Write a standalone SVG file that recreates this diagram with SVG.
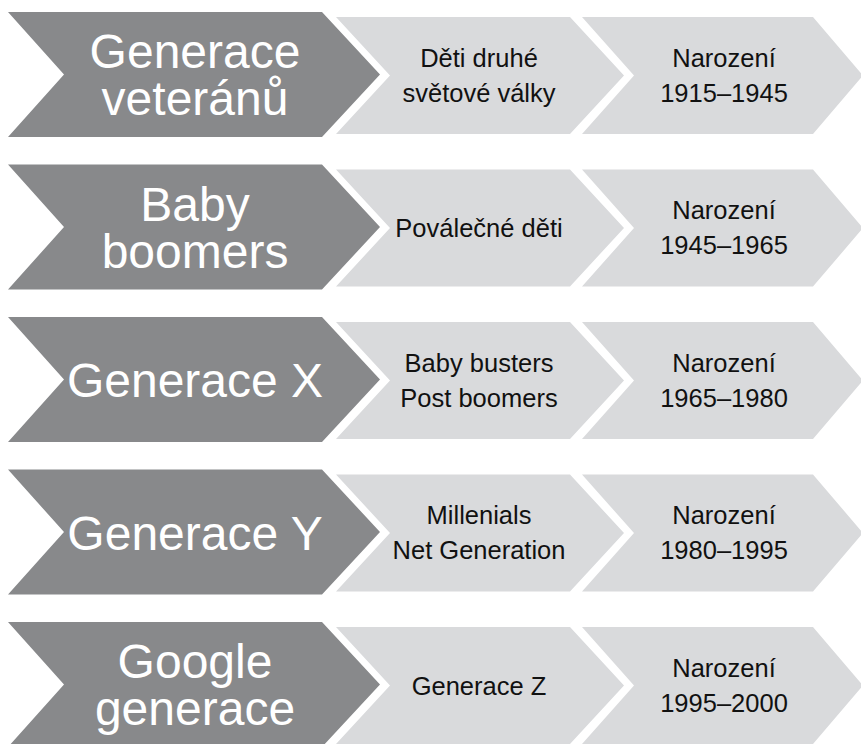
<svg xmlns="http://www.w3.org/2000/svg" xmlns:xlink="http://www.w3.org/1999/xlink" width="861" height="744" viewBox="0 0 861 744">
<defs>
<style>
.dark{fill:#88898b;}
.light{fill:#d9dadc;}
.tl{font-family:"Liberation Sans",Arial,Helvetica,sans-serif;font-size:48px;fill:#ffffff;text-anchor:middle;}
.ts{font-family:"Liberation Sans",Arial,Helvetica,sans-serif;font-size:25.5px;fill:#111111;text-anchor:middle;}
</style>
<polygon id="pd" points="8,0 322,0 380,62.5 322,125 8,125 64,62.5"/>
<polygon id="pl1" points="336,5 570,5 624,63.5 570,122 336,122 390,63.5"/>
<polygon id="pl2" points="582,5 813,5 863,63.5 813,122 582,122 634,63.5"/>
</defs>
<rect width="861" height="744" fill="#ffffff"/>

<g id="row1" transform="translate(0,12)">
<g id="n1a"><use xlink:href="#pd" class="dark"/><text class="tl" x="195" y="56">Generace</text><text class="tl" x="195" y="103">veteránů</text></g>
<g id="n1b"><use xlink:href="#pl1" class="light"/><text class="ts" x="479" y="54.5">Děti druhé</text><text class="ts" x="479" y="89.5">světové války</text></g>
<g id="n1c"><use xlink:href="#pl2" class="light"/><text class="ts" x="724" y="54.5">Narození</text><text class="ts" x="724" y="89.5">1915–1945</text></g>
</g>

<g id="row2" transform="translate(0,164.5)">
<g id="n2a"><use xlink:href="#pd" class="dark"/><text class="tl" x="195" y="56">Baby</text><text class="tl" x="195" y="103">boomers</text></g>
<g id="n2b"><use xlink:href="#pl1" class="light"/><text class="ts" x="479" y="72.5">Poválečné děti</text></g>
<g id="n2c"><use xlink:href="#pl2" class="light"/><text class="ts" x="724" y="54.5">Narození</text><text class="ts" x="724" y="89.5">1945–1965</text></g>
</g>

<g id="row3" transform="translate(0,317)">
<g id="n3a"><use xlink:href="#pd" class="dark"/><text class="tl" x="195" y="80">Generace X</text></g>
<g id="n3b"><use xlink:href="#pl1" class="light"/><text class="ts" x="479" y="54.5">Baby busters</text><text class="ts" x="479" y="89.5">Post boomers</text></g>
<g id="n3c"><use xlink:href="#pl2" class="light"/><text class="ts" x="724" y="54.5">Narození</text><text class="ts" x="724" y="89.5">1965–1980</text></g>
</g>

<g id="row4" transform="translate(0,469.5)">
<g id="n4a"><use xlink:href="#pd" class="dark"/><text class="tl" x="195" y="80">Generace Y</text></g>
<g id="n4b"><use xlink:href="#pl1" class="light"/><text class="ts" x="479" y="54.5">Millenials</text><text class="ts" x="479" y="89.5">Net Generation</text></g>
<g id="n4c"><use xlink:href="#pl2" class="light"/><text class="ts" x="724" y="54.5">Narození</text><text class="ts" x="724" y="89.5">1980–1995</text></g>
</g>

<g id="row5" transform="translate(0,622)">
<g id="n5a"><use xlink:href="#pd" class="dark"/><text class="tl" x="195" y="56">Google</text><text class="tl" x="195" y="103">generace</text></g>
<g id="n5b"><use xlink:href="#pl1" class="light"/><text class="ts" x="479" y="72.5">Generace Z</text></g>
<g id="n5c"><use xlink:href="#pl2" class="light"/><text class="ts" x="724" y="54.5">Narození</text><text class="ts" x="724" y="89.5">1995–2000</text></g>
</g>
</svg>
